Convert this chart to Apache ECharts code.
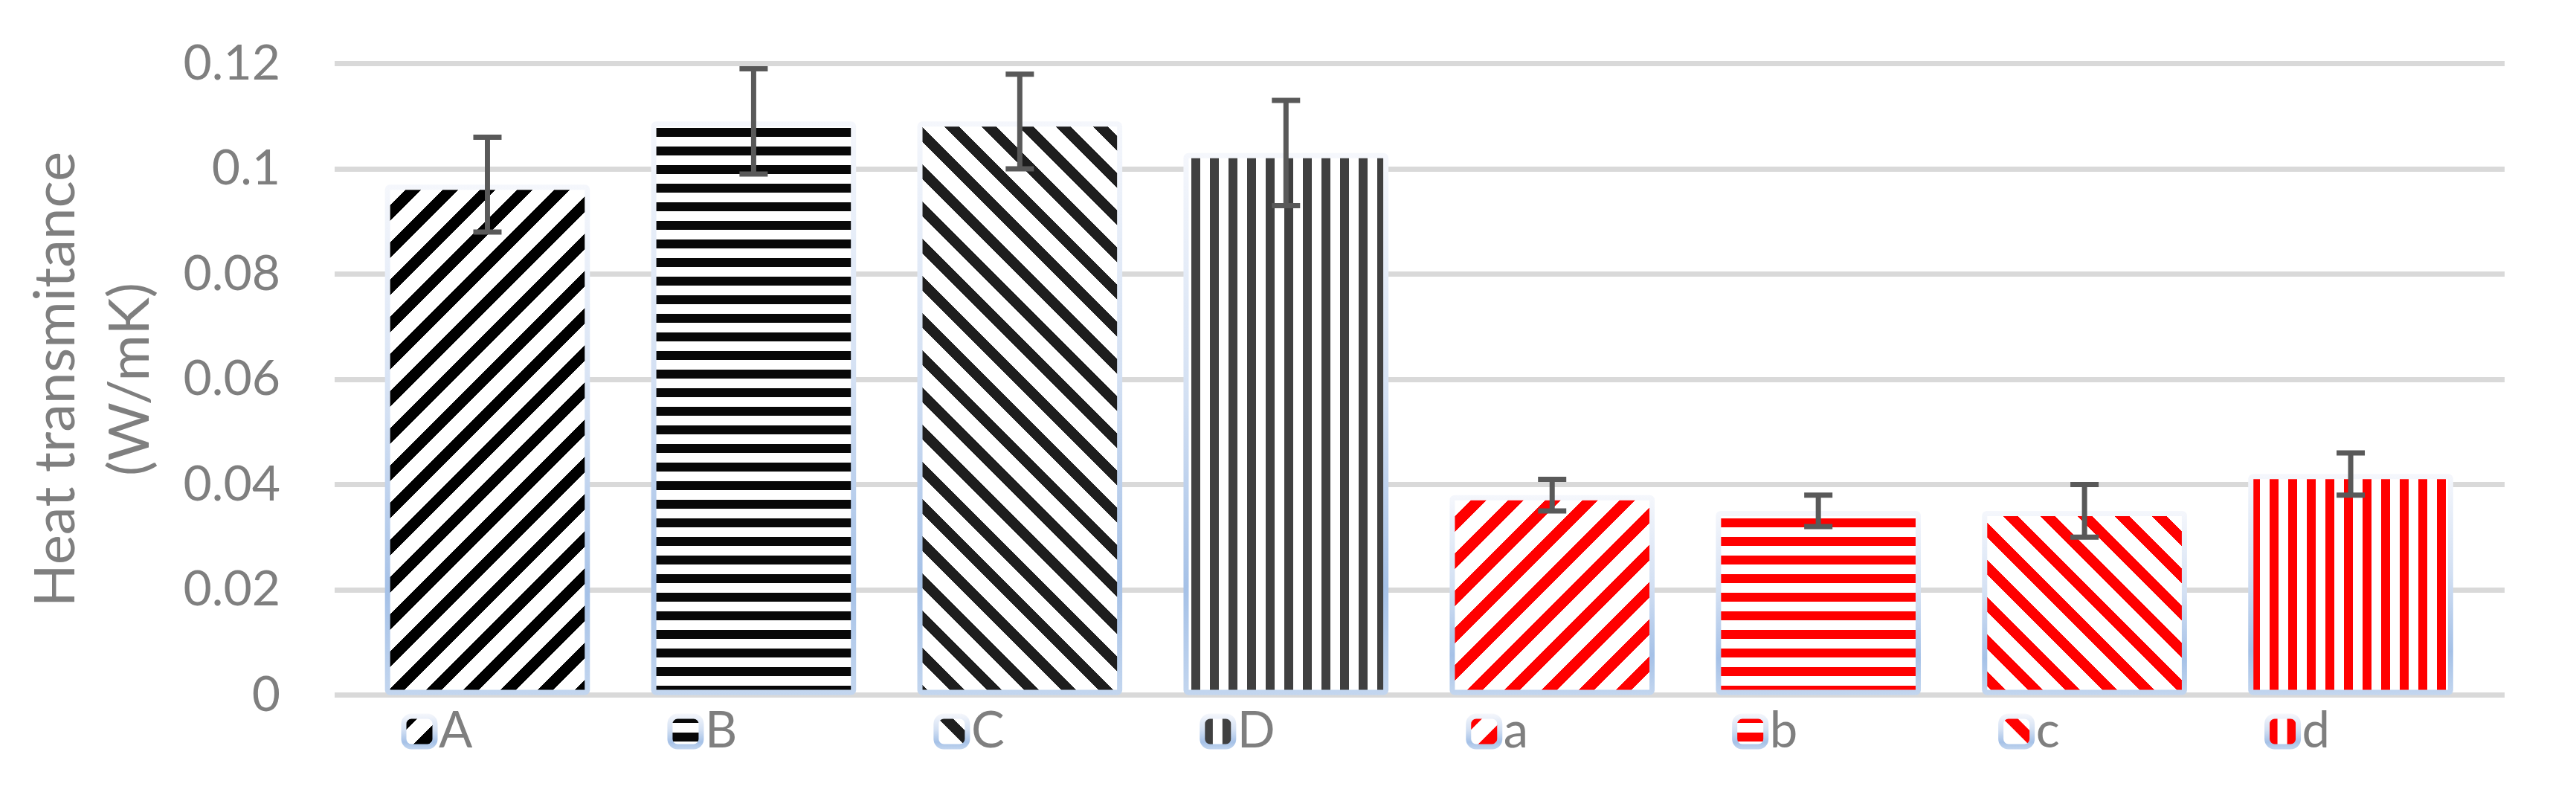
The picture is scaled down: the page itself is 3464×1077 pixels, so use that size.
<!DOCTYPE html>
<html><head><meta charset="utf-8">
<script src="https://cdn.jsdelivr.net/npm/echarts@6/dist/echarts.min.js"></script>
<style>html,body{margin:0;padding:0;background:#fff;}#chart{width:3464px;height:1077px;}</style>
</head><body><div id="chart"></div>
<script>
// ---- data ----
const categories = ['A', 'B', 'C', 'D', 'a', 'b', 'c', 'd'];
const values = [0.097, 0.109, 0.109, 0.103, 0.038, 0.035, 0.035, 0.042];
const errors = [0.009, 0.010, 0.009, 0.010, 0.003, 0.003, 0.005, 0.004];
const yTicks = [0, 0.02, 0.04, 0.06, 0.08, 0.1, 0.12];
const hatchKinds = ['up', 'horiz', 'down', 'vert', 'up', 'horiz', 'down', 'vert'];
const hatchColors = ['#000000', '#080808', '#1e1e1e', '#404040', '#ff0000', '#ff0000', '#ff0000', '#ff0000'];
const yTitle = 'Heat transmitance\n(W/mK)';

// ---- styles ----
function hatch(kind, color) {
  const P = (kind === 'up' || kind === 'down') ? 50 : 25;
  const c = document.createElement('canvas');
  c.width = P; c.height = P;
  const ctx = c.getContext('2d');
  ctx.fillStyle = '#ffffff'; ctx.fillRect(0, 0, P, P);
  ctx.fillStyle = color;
  for (let y = 0; y < P; y++) for (let x = 0; x < P; x++) {
    let on;
    if (kind === 'horiz') on = (((y - 22) % 25) + 25) % 25 < 12;
    else if (kind === 'vert') on = (((x - 2) % 25) + 25) % 25 < 12;
    else if (kind === 'up') on = ((x + y) % 50) < 21;
    else on = (((x - y) % 50) + 50) % 50 < 20;
    if (on) ctx.fillRect(x, y, 1, 1);
  }
  return { image: c, repeat: 'repeat' };
}
const patterns = hatchKinds.map((k, i) => hatch(k, hatchColors[i]));
const borderGrad = () => ({
  type: 'linear', x: 0, y: 0, x2: 0, y2: 1,
  colorStops: [
    { offset: 0, color: '#f5f7fc' },
    { offset: 0.45, color: '#d3e0f3' },
    { offset: 0.8, color: '#a5c1e7' },
    { offset: 1, color: '#c3d6ef' }
  ]
});

const yMin = yTicks[0], yMax = yTicks[yTicks.length - 1], yInt = yTicks[1] - yTicks[0];
const font = 'Lato';
const txtColor = '#7f7f7f';

const gridTop = 85.5, gridBottom = 142.5;
const catLeft = 476.5, catRight = 124;
const catWidth = (3464 - catLeft - catRight) / categories.length;

const barSeries = categories.map((name, i) => ({
  name, type: 'bar', stack: 'all', xAxisIndex: 0, yAxisIndex: 0,
  barCategoryGap: '23%',
  data: values.map((v, j) => (j === i ? v : '-')),
  itemStyle: { color: patterns[i], borderColor: borderGrad(), borderWidth: 7, borderRadius: 3 },
  emphasis: { disabled: true },
  z: 2
}));

const errSeries = {
  type: 'custom', name: 'error', xAxisIndex: 0, yAxisIndex: 0,
  data: values.map((v, i) => [i, v - errors[i], v + errors[i]]),
  encode: { x: 0, y: [1, 2] },
  silent: true, z: 5,
  renderItem(params, api) {
    const lo = api.coord([api.value(0), api.value(1)]);
    const hi = api.coord([api.value(0), api.value(2)]);
    const hw = 19;
    const st = { stroke: '#595959', lineWidth: 7 };
    return {
      type: 'group', children: [
        { type: 'line', shape: { x1: lo[0], y1: lo[1], x2: hi[0], y2: hi[1] }, style: st },
        { type: 'line', shape: { x1: lo[0] - hw, y1: lo[1], x2: lo[0] + hw, y2: lo[1] }, style: st },
        { type: 'line', shape: { x1: hi[0] - hw, y1: hi[1], x2: hi[0] + hw, y2: hi[1] }, style: st }
      ]
    };
  }
};

const legends = categories.map((name, i) => ({
  data: [name],
  left: catLeft + catWidth * i + 63,
  top: 950,
  padding: 0,
  itemWidth: 42, itemHeight: 41, itemTextGap: 20,
  icon: 'roundRect',
  selectedMode: false,
  itemStyle: { borderColor: borderGrad(), borderWidth: 7 },
  textStyle: { color: txtColor, fontSize: 67, fontFamily: font, lineHeight: 41 }
}));

const chart = echarts.init(document.getElementById('chart'), null, { renderer: 'canvas' });
chart.setOption({
  animation: false,
  backgroundColor: '#ffffff',
  grid: [
    { left: catLeft, right: catRight, top: gridTop, bottom: gridBottom },
    { left: 450, right: 96, top: gridTop, bottom: gridBottom }
  ],
  xAxis: [
    { type: 'category', gridIndex: 0, data: categories, axisLine: { show: false }, axisTick: { show: false }, axisLabel: { show: false }, splitLine: { show: false } },
    { type: 'value', gridIndex: 1, show: false, min: 0, max: 1 }
  ],
  yAxis: [
    { type: 'value', gridIndex: 0, min: yMin, max: yMax, interval: yInt, show: false },
    {
      type: 'value', gridIndex: 1, min: yMin, max: yMax, interval: yInt,
      splitLine: { lineStyle: { color: '#d9d9d9', width: 7 } },
      axisLine: { show: false }, axisTick: { show: false },
      axisLabel: { color: txtColor, fontSize: 66, fontFamily: font, margin: 73 },
      name: yTitle, nameLocation: 'middle', nameGap: 225, nameRotate: 90,
      nameTextStyle: { color: txtColor, fontSize: 76, fontFamily: font, lineHeight: 100 }
    }
  ],
  legend: legends,
  series: [...barSeries, errSeries]
});
</script>
</body></html>
